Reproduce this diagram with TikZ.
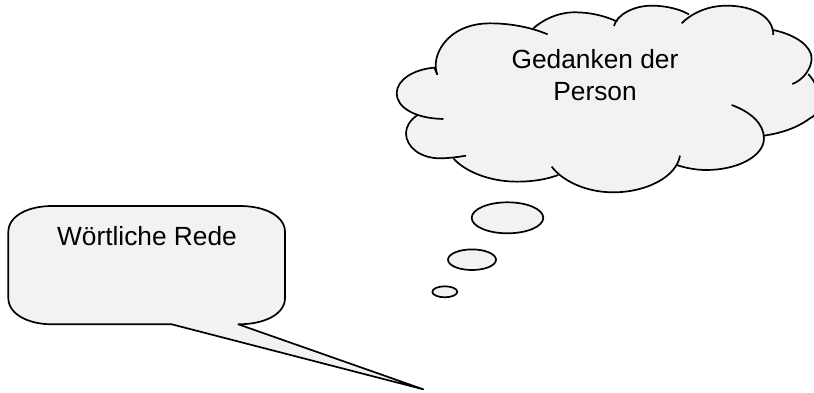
\documentclass[tikz,border=0pt]{standalone}
\usepackage{fontspec}
\setmainfont{Liberation Sans}
\definecolor{shapefill}{HTML}{F2F2F2}
\tikzset{
  outline/.style={draw=black,line width=1.7pt,line join=round},
  bubble/.style={fill=shapefill,outline},
  label/.style={font=\fontsize{26.3}{32}\selectfont,text=black,inner sep=0pt,align=center}
}
\def\lobeA{(160,357) .. controls (70,355) and (20,320) .. (20,280) .. controls (20,240) and (70,208) .. (133,203) -- (142,224)}
\def\lobeB{(142,224) .. controls (120,170) and (170,70) .. (300,70) .. controls (370,70) and (430,85) .. (473,103)}
\def\lobeC{(430,85) .. controls (470,50) and (520,35) .. (560,37) .. controls (610,38) and (650,50) .. (682,65)}
\def\lobeD{(672,78) .. controls (680,45) and (730,17) .. (785,17) .. controls (830,17) and (870,28) .. (897,43)}
\def\lobeE{(875,70) .. controls (910,35) and (960,17) .. (1010,17) .. controls (1090,17) and (1150,50) .. (1150,105)}
\def\lobeF{(1150,90) .. controls (1220,105) and (1265,140) .. (1265,175) .. controls (1265,205) and (1240,240) .. (1207,252)}
\def\lobeG{(1255,222) .. controls (1290,260) and (1310,330) .. (1260,355) .. controls (1220,385) and (1170,400) .. (1122,407)}
\def\lobeH{(1025,315) .. controls (1080,335) and (1122,370) .. (1122,415) .. controls (1122,470) and (1040,510) .. (950,510) .. controls (920,510) and (890,505) .. (860,495)}
\def\lobeI{(870,467) .. controls (860,530) and (770,577) .. (670,577) .. controls (590,577) and (520,545) .. (485,500)}
\def\lobeJ{(505,525) .. controls (470,538) and (430,545) .. (380,545) .. controls (300,545) and (225,515) .. (190,475)}
\def\lobeK{(228,467) .. controls (200,472) and (170,475) .. (150,475) .. controls (90,475) and (48,440) .. (48,400) .. controls (48,380) and (60,360) .. (83,345)}
\begin{document}
\begin{tikzpicture}[x=1pt,y=-1pt]
\useasboundingbox (0,0) rectangle (814,392);
\clip (0,0) rectangle (814,392);
% cloud (coordinates in a 3x grid anchored at x=390)
\begin{scope}[shift={(390,0)},x=0.3333pt,y=-0.3333pt]
  \fill[shapefill] \lobeA -- \lobeB -- \lobeC -- \lobeD -- \lobeE -- \lobeF -- \lobeG -- \lobeH -- \lobeI -- \lobeJ -- \lobeK -- cycle;
  \path[outline] \lobeA;
  \path[outline] \lobeB;
  \path[outline] \lobeC;
  \path[outline] \lobeD;
  \path[outline] \lobeE;
  \path[outline] \lobeF;
  \path[outline] \lobeG;
  \path[outline] \lobeH;
  \path[outline] \lobeI;
  \path[outline] \lobeJ;
  \path[outline] \lobeK;
\end{scope}
\node[label,anchor=center] (thought) at (595,75) {Gedanken der\\Person};
% thought bubbles
\path[bubble] (507.5,217.8) ellipse [x radius=35.8,y radius=15.5];
\path[bubble] (472,259.7) ellipse [x radius=24,y radius=10.3];
\path[bubble] (444.8,291.8) ellipse [x radius=12.5,y radius=5.5];
% speech callout
\path[bubble] (171.7,324.3) -- (423.3,389.3) -- (238.3,324.3)
  .. controls (265,324.3) and (285,314) .. (285,298)
  -- (285,232)
  .. controls (285,216) and (265,206) .. (240,206)
  -- (52,206)
  .. controls (28,206) and (8.3,216) .. (8.3,232)
  -- (8.3,298)
  .. controls (8.3,314) and (28,324.3) .. (52,324.3)
  -- cycle;
\node[label,anchor=base] (speech) at (147,245.7) {Wörtliche Rede};
\end{tikzpicture}
\end{document}
